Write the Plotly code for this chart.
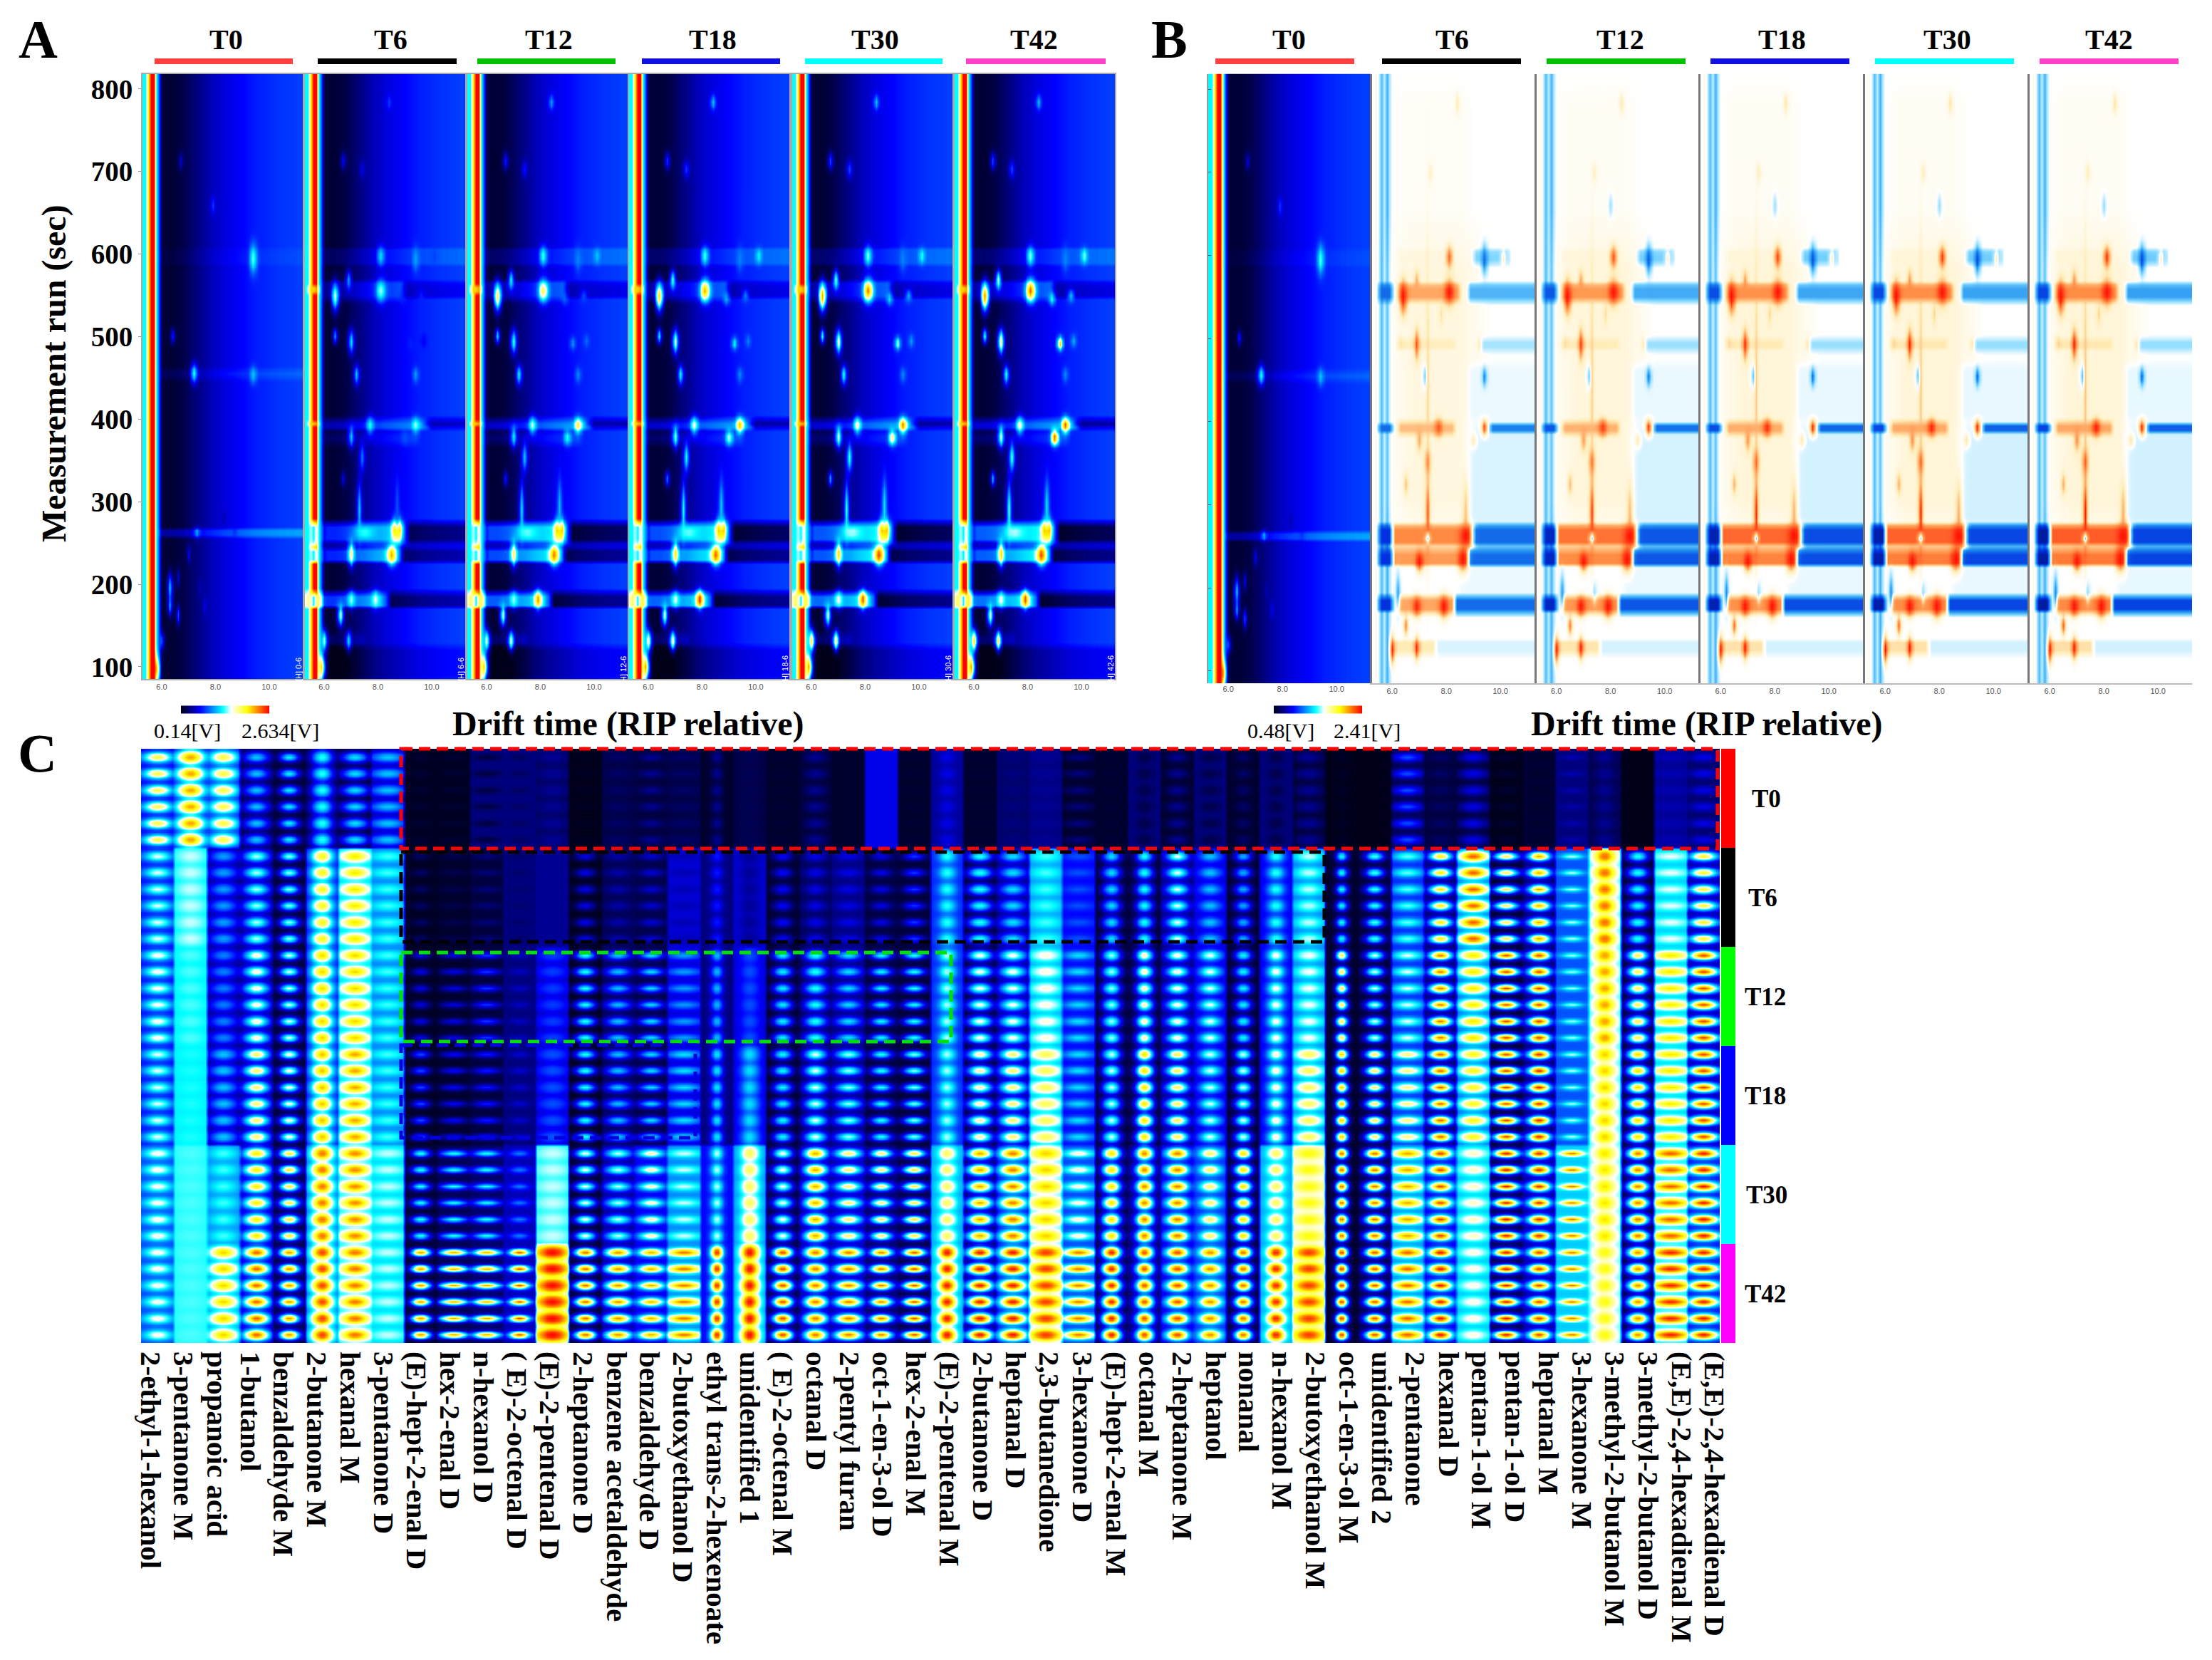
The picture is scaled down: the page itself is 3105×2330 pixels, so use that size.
import numpy as np
import plotly.graph_objects as go

W, H = 3105, 2330

times = ['T0', 'T6', 'T12', 'T18', 'T30', 'T42']
top_colors = ['#FF4040', '#000000', '#00C000', '#1010E0', '#00FFFF', '#FF40C8']
side_colors = ['#FF0000', '#000000', '#00FF00', '#0000FF', '#00FFFF', '#FF00FF']

jet = [[0, '#00001A'], [.05, '#000048'], [.22, '#0000FF'], [.47, '#00FFFF'],
       [.57, '#FFFFFF'], [.75, '#FFFF00'], [1, '#FF0000']]
jet_diff = [[0, '#00001A'], [.05, '#000048'], [.22, '#0030E0'], [.35, '#2090F0'], [.47, '#80D8FF'],
            [.57, '#FFFFFF'], [.68, '#FFEDB8'], [.85, '#FF8A40'], [1, '#FF1000']]

# gallery plots: drift time nodes, level (0-1 of the colour bar)
drift_nodes = [round(5.3 + .1 * i, 1) for i in range(60)]
run_nodes = list(range(85, 825, 5))
profile_a = [.47, .47, .75, 1, 1, .5, .3, .05, .03, .03, .03, .03, .035, .04, .045, .05, .06, .07, .08, .09,
             .1, .11, .12, .13, .14, .15, .16, .165, .17, .18, .185, .19, .195, .2, .205, .21, .215, .22, .225, .23,
             .235, .24, .245, .25, .25, .255, .255, .26, .26, .265, .265, .27, .27, .27, .275, .275, .275, .28, .28, .28]
profile_b = [.57, .6, .55, .42, .52, .4, .5, .57, .57, .57, .57, .57, .57, .57, .57, .57, .57, .57, .57, .57,
             .57, .57, .57, .57, .57, .57, .57, .57, .57, .57, .57, .57, .57, .57, .57, .57, .57, .57, .57, .57,
             .57, .57, .57, .57, .57, .57, .57, .57, .57, .57, .57, .57, .57, .57, .57, .57, .57, .57, .57, .57]

# T0 spots
t0_drift = [6.67, 7.95, 9.42, 6.42, 7.23, 9.41, 7.35, 7.74, 8.7, 8.27, 7.04, 6.27, 6.6, 6.33, 6.64, 7.63, 6.02, 5.84, 7.43]
t0_run = [713, 659, 595, 501, 456, 454, 263, 263, 263, 281, 237, 196, 208, 174, 163, 174, 132, 98, 196]
t0_level = [.18, .28, .52, .25, .5, .42, .42, .25, .25, .15, .2, .42, .18, .38, .3, .2, .3, .85, .15]
t0_sd_drift = [.06, .06, .09, .06, .08, .08, .07, .05, .06, .05, .05, .07, .05, .06, .05, .05, .06, .07, .05]
t0_sd_run = [7, 7, 12, 6, 8, 7, 4, 3, 3, 6, 7, 12, 8, 8, 8, 7, 7, 10, 7]
t0_band_lo = [258, 450, 588]
t0_band_hi = [268, 460, 606]
t0_band_drift = [5.95, 5.95, 5.95]
t0_band_delta = [.1, .04, .015]

# spots of T6 to T42
peak_drift = [8.4, 6.65, 7.43, 8.05, 9.41, 10.08, 6.45, 6.92, 8.11, 8.87, 9.6, 6.42, 6.99, 9.24, 9.7, 7.19, 9.37, 7.68,
              9.41, 7.04, 9.02, 7.38, 7.33, 6.65, 8.73, 8.68, 7.46, 6.99, 8.53, 6.96, 7.89, 6.62, 6.0, 6.92, 5.86]
peak_run = [784, 713, 703, 598, 594, 598, 549, 569, 556, 546, 550, 501, 494, 492, 495, 454, 454, 393,
            393, 379, 378, 354, 290, 328, 266, 295, 263, 237, 236, 182, 182, 163, 132, 132, 100]
peak_sd_drift = [.07, .07, .07, .09, .08, .08, .09, .07, .12, .08, .08, .06, .08, .07, .07, .07, .07, .09,
                 .09, .08, .09, .07, .06, .06, .12, .06, .25, .08, .12, .1, .09, .08, .07, .07, .08]
peak_sd_run = [6, 7, 7, 8, 10, 6, 12, 8, 9, 5, 5, 6, 10, 5, 5, 8, 6, 7,
               6, 9, 6, 12, 24, 6, 9, 22, 6, 10, 8, 7, 7, 9, 9, 8, 10]
peak_t6 = [.28, .22, .2, .45, .38, .28, .58, .38, .55, .25, .25, .38, .45, .25, .2, .42, .38, .5,
           .55, .42, .3, .34, .42, .2, 1, .3, .5, .68, .85, .55, .58, .6, .55, .45, .78]
peak_t12 = [.38, .25, .24, .52, .35, .42, .72, .48, .72, .32, .3, .45, .52, .38, .33, .48, .36, .58,
            .75, .48, .5, .42, .45, .25, 1, .4, .52, .72, .9, .55, .88, .6, .6, .62, .8]
peak_t18 = [.42, .28, .28, .52, .35, .48, .78, .52, .85, .4, .35, .48, .6, .5, .35, .48, .36, .62,
            .85, .55, .58, .48, .48, .35, 1, .42, .52, .78, .92, .58, 1, .62, .65, .68, .85]
peak_t30 = [.42, .3, .3, .55, .35, .5, .85, .55, .9, .45, .4, .5, .65, .6, .38, .5, .36, .65,
            .92, .6, .7, .5, .5, .4, 1, .45, .55, .8, .95, .6, .95, .62, .75, .72, .85]
peak_t42 = [.42, .3, .3, .55, .35, .55, .88, .58, .92, .5, .42, .52, .7, .85, .4, .5, .36, .65,
            .95, .6, .95, .52, .52, .42, 1, .45, .55, .8, .95, .6, .95, .62, .78, .75, .85]
peak_levels = [peak_t6, peak_t12, peak_t18, peak_t30, peak_t42]

# horizontal bands of T6 to T42
band_lo = [588, 545, 388, 370, 250, 250, 228, 228, 172, 172, 128, 85, 548, 390]
band_hi = [608, 568, 400, 385, 275, 275, 245, 245, 190, 190, 140, 125, 566, 400]
band_d0 = [5.95, 5.95, 5.95, 5.95, 5.95, 8.9, 5.95, 8.7, 5.3, 8.2, 5.95, 6.2, 8.9, 9.7]
band_d1 = [11.3, 8.7, 9.6, 9.2, 8.8, 11.3, 8.6, 11.3, 8.1, 11.3, 7.2, 11.3, 11.3, 11.3]
band_delta = [.05, .1, .14, .05, .26, -.2, .26, -.16, .28, -.16, .05, -.06, -.08, -.14]
band_gain = [.85, 1, 1.02, 1.05, 1.08]
rip_lo = [172, 228, 248, 392, 552]
rip_hi = [190, 245, 275, 398, 562]
rip_level = [.47, .47, .47, .8, .8]

# panel B, difference to T0
diff_drift = [8.4, 7.39, 7.98, 8.06, 9.44, 10.1, 6.42, 6.92, 8.1, 7.78, 6.95, 6.35, 9.2, 7.19, 9.4, 7.68, 9.4, 7.02, 9.02,
              7.34, 6.55, 7.27, 7.3, 8.7, 8.7, 7.02, 8.57, 6.92, 7.9, 6.55, 6.0, 6.92, 6.25, 7.39, 7.29]
diff_run = [783, 700, 660, 598, 595, 597, 550, 567, 556, 530, 493, 495, 493, 455, 454, 393, 393, 378, 378,
            352, 325, 290, 430, 290, 263, 232, 235, 178, 178, 155, 126, 128, 195, 195, 260]
diff_level = [.68, .66, .5, .9, .3, .66, 1, .8, 1, .7, .92, .7, .68, .42, .33, .92, .95, .8, .68,
              .85, .75, .92, .72, .75, 1, 1, 1, .98, 1, .85, .98, .98, .38, .5, .45]
diff_sd_drift = [.06, .06, .06, .08, .08, .06, .1, .07, .12, .06, .07, .07, .06, .06, .06, .1, .08, .07, .07,
                 .08, .06, .06, .05, .07, .14, .1, .12, .11, .12, .06, .06, .07, .05, .06, .06]
diff_sd_run = [8, 8, 10, 9, 12, 6, 14, 10, 10, 10, 12, 6, 6, 10, 7, 7, 6, 9, 6,
               12, 9, 28, 110, 26, 9, 8, 10, 8, 9, 8, 11, 9, 14, 8, 4]
diff_band_lo = [620, 270, 270, 400, 190, 120, 120, 590, 590, 545, 545, 488, 485, 385, 388, 250, 250, 228, 228, 170, 170,
                250, 228, 172, 388, 545]
diff_band_hi = [800, 620, 400, 470, 228, 138, 138, 606, 606, 566, 566, 500, 500, 400, 398, 276, 276, 246, 246, 190, 190,
                276, 246, 190, 398, 566]
diff_band_d0 = [6.2, 6.2, 8.8, 8.8, 8.5, 6.0, 7.6, 6.2, 9.0, 6.2, 8.8, 6.2, 9.2, 6.2, 9.6, 5.9, 8.95, 6.0, 8.8, 6.2, 8.3,
                5.5, 5.5, 5.5, 5.5, 5.5]
diff_band_d1 = [8.5, 8.8, 11.3, 11.3, 11.3, 7.3, 11.3, 8.0, 10.0, 8.2, 11.3, 8.0, 11.3, 8.0, 11.3, 8.8, 11.3, 8.5, 11.3, 8.0, 11.3,
                5.7, 5.7, 5.7, 5.7, 5.7]
diff_band_value = [.585, .62, .54, .555, .555, .68, .54, .62, .47, .8, .41, .67, .5, .76, .33, .85, .3, .82, .3, .8, .3,
                   .22, .22, .22, .3, .3]
diff_gain = [1, 1.1, 1.15, 1.18, 1.2]

# panel C
compounds = ['2-ethyl-1-hexanol', '3-pentanone M', 'propanoic acid', '1-butanol', 'benzaldehyde M', '2-butanone M',
             'hexanal M', '3-pentanone D', '(E)-hept-2-enal D', 'hex-2-enal D', 'n-hexanol D', '( E)-2-octenal D',
             '(E)-2-pentenal D', '2-heptanone D', 'benzene acetaldehyde', 'benzaldehyde D', '2-butoxyethanol D',
             'ethyl trans-2-hexenoate', 'unidentified 1', '( E)-2-octenal M', 'octanal D', '2-pentyl furan',
             'oct-1-en-3-ol D', 'hex-2-enal M', '(E)-2-pentenal M', '2-butanone D', 'heptanal D', '2,3-butanedione',
             '3-hexanone D', '(E)-hept-2-enal M', 'octanal M', '2-heptanone M', 'heptanol', 'nonanal', 'n-hexanol M',
             '2-butoxyethanol M', 'oct-1-en-3-ol M', 'unidentified 2', '2-pentanone', 'hexanal D', 'pentan-1-ol M',
             'pentan-1-ol D', 'heptanal M', '3-hexanone M', '3-methyl-2-butanol M', '3-methyl-2-butanol D',
             '(E,E)-2,4-hexadienal M', '(E,E)-2,4-hexadienal D']
peak_c_t0 = [.72, .85, .72, .42, .47, .5, .45, .42, .03, .03, .04, .07, .12, .01, .08, .12, .08, .12, .06, .03, .12, .02, .2, .03,
             .2, .03, .1, .12, .1, .03, .05, .12, .05, .08, .05, .12, .02, .0, .3, .08, .2, .03, .02, .15, .12, .0, .15, .2]
peak_c_t6 = [.57, .55, .38, .55, .55, .75, .78, .5, .08, .06, .1, .08, .12, .2, .14, .18, .15, .25, .12, .22, .2, .2, .2, .28,
             .5, .5, .45, .5, .3, .45, .5, .58, .42, .4, .5, .55, .5, .52, .52, .78, .92, .72, .85, .56, .9, .5, .57, .75]
peak_c_t12 = [.6, .5, .35, .62, .58, .8, .8, .5, .2, .2, .28, .17, .28, .5, .42, .45, .38, .42, .3, .47, .5, .45, .48, .5,
              .55, .6, .6, .6, .45, .55, .65, .62, .58, .48, .6, .58, .75, .58, .57, .9, .78, .95, .95, .55, .85, .72, .78, .95]
peak_c_t18 = [.57, .48, .42, .7, .62, .82, .85, .5, .3, .22, .25, .18, .3, .5, .42, .45, .45, .47, .45, .48, .58, .55, .5, .55,
              .55, .65, .7, .7, .45, .57, .8, .72, .57, .58, .62, .7, .85, .72, .68, .92, .75, .95, .98, .56, .8, .8, .78, .95]
peak_c_t30 = [.6, .5, .5, .78, .75, .9, .88, .55, .5, .5, .5, .35, .55, .6, .56, .65, .56, .57, .7, .6, .85, .7, .7, .75,
              .7, .85, .9, .8, .62, .8, .9, .9, .7, .8, .7, .75, .95, .92, .85, .95, .62, 1, .98, .9, .78, .9, .92, 1]
peak_c_t42 = [.6, .5, .8, .92, .88, .95, .9, .55, .88, .85, .85, .95, 1, .92, .88, .85, .9, 1, 1, .95, .9, .9, .9, .95,
              1, 1, 1, .95, .9, 1, .95, .95, .88, .92, .98, .95, 1, .95, .92, 1, .6, 1, .95, .9, .75, .88, .98, 1]
peak_c = [peak_c_t0, peak_c_t6, peak_c_t12, peak_c_t18, peak_c_t30, peak_c_t42]
bg_c_t0 = [.2, .15, .22, .05, .03, .03, .02, .12, .01, .01, .1, .1, .05, .0, .05, .04, .05, .02, .05, .02, .03, .02, .2, .02,
           .12, .02, .08, .1, .02, .02, .1, .02, .1, .02, .1, .02, .0, .0, .05, .04, .02, .0, .03, .1, .05, .0, .12, .08]
bg_c_mid = [.22, .45, .1, .1, .03, .2, .42, .33, .01, .02, .04, .1, .12, .0, .06, .05, .18, .1, .18, .02, .06, .1, .04, .03,
            .25, .02, .1, .35, .22, .02, .03, .1, .18, .02, .2, .32, .02, .03, .25, .08, .3, .02, .08, .3, .48, .01, .42, .12]
bg_c_late = [.28, .48, .35, .15, .05, .3, .45, .42, .03, .06, .08, .15, .45, .02, .12, .2, .35, .22, .35, .04, .1, .14, .08, .05,
             .38, .05, .2, .45, .28, .03, .08, .18, .25, .03, .38, .55, .02, .05, .35, .2, .4, .05, .12, .42, .5, .02, .45, .22]
bg_c = [bg_c_t0, bg_c_mid, bg_c_mid, bg_c_mid, bg_c_late, bg_c_late]
# spot width and height inside a cell
blob_w = [.32, .35, .32, .28, .22, .25, .32, .44, .21, .32, .32, .22, .44, .24, .29, .28, .4, .13, .21, .22, .25, .29, .24, .25,
          .19, .29, .29, .4, .35, .21, .19, .24, .24, .19, .19, .35, .13, .21, .35, .25, .35, .29, .25, .25, .24, .24, .44, .32]
blob_h = [.23, .36, .29, .25, .2, .36, .25, .25, .17, .14, .14, .14, .38, .2, .2, .17, .18, .31, .43, .23, .25, .2, .18, .17,
          .31, .25, .25, .31, .18, .29, .29, .23, .23, .25, .29, .29, .23, .2, .2, .2, .25, .18, .2, .11, .36, .25, .2, .2]


def add_spots(z, drift, run, level, sd_d, sd_r):
    xs = np.array(drift_nodes)
    ys = np.array(run_nodes)
    for d, r, v, sx, sy in zip(drift, run, level, sd_d, sd_r):
        d = xs[np.abs(xs - d).argmin()]
        spot = np.exp(-.5 * ((xs - d) / sx) ** 2)[None, :] * np.exp(-.5 * ((ys - r) / sy) ** 2)[:, None]
        z = z + (v - z) * spot if v < .5 else np.maximum(z, z + (v - z) * spot)
    return z


def band_weight(lo, hi, d0, d1):
    # band edges fade out over a few nodes, tall bands fade slower
    xs, ys = np.array(drift_nodes), np.array(run_nodes)
    soft_y = max(3, (hi - lo) * .2)
    soft_x = max(.2, (hi - lo) / 300)
    wy = np.clip(np.minimum(ys - lo, hi - ys) / soft_y + .5, 0, 1)
    wx = np.clip(np.minimum(xs - d0, d1 - xs) / soft_x + .5, 0, 1)
    return wy[:, None] * wx[None, :]


def t0_map():
    z = np.tile(np.array(profile_a), (len(run_nodes), 1))
    for lo, hi, d0, dv in zip(t0_band_lo, t0_band_hi, t0_band_drift, t0_band_delta):
        z = z + dv * band_weight(lo, hi, d0, 11.6)
    return add_spots(z, t0_drift, t0_run, t0_level, t0_sd_drift, t0_sd_run)


def t_map(i):
    z = np.tile(np.array(profile_a), (len(run_nodes), 1))
    for lo, hi, d0, d1, dv in zip(band_lo, band_hi, band_d0, band_d1, band_delta):
        z = z + dv * band_gain[i] * band_weight(lo, hi, d0, d1 + .3)
    for lo, hi, v in zip(rip_lo, rip_hi, rip_level):
        w = band_weight(lo, hi, 5.45, 5.75)
        z = z + (v - z) * w
    return add_spots(z, peak_drift, peak_run, peak_levels[i], peak_sd_drift, peak_sd_run)


def diff_map(i):
    z = np.tile(np.array(profile_b), (len(run_nodes), 1))
    g = diff_gain[i]
    for lo, hi, d0, d1, v in zip(diff_band_lo, diff_band_hi, diff_band_d0, diff_band_d1, diff_band_value):
        z = z + (.57 + (v - .57) * g - z) * band_weight(lo, hi, d0, d1 + .3)
    lv = [min(1, .57 + (v - .57) * g) for v in diff_level]
    return add_spots(z, diff_drift, diff_run, lv, diff_sd_drift, diff_sd_run)


def c_map():
    # 10 nodes per cell across, 7 down, each of the 6 replicate rows of a sampling time
    u = (np.arange(c_nx) + .5) / c_nx - .5
    v = (np.arange(c_ny) + .5) / c_ny - .5
    rows = []
    for g in range(6):
        block = []
        for c in range(len(compounds)):
            k = np.exp(-.5 * (u / blob_w[c]) ** 2)[None, :] * np.exp(-.5 * (v / blob_h[c]) ** 2)[:, None]
            block.append(bg_c[g][c] + (peak_c[g][c] - bg_c[g][c]) * k)
        block = np.hstack(block)
        rows += [block] * 6
    return np.vstack(rows)


def xf(p):
    return p / W


def yf(p):
    return 1 - p / H


c_nx, c_ny = 10, 7
fig = go.Figure()
axis_no = 0


def add_panel(left, right, top, bottom, z, coloraxis, xrange_, yrange_, x=None, y=None, **xkw):
    global axis_no
    axis_no += 1
    n = axis_no
    fig.add_trace(go.Heatmap(z=z, x=x if x is not None else drift_nodes, y=y if y is not None else run_nodes,
                             coloraxis=coloraxis, zsmooth='best', hoverinfo='skip',
                             xaxis=f'x{n}', yaxis=f'y{n}'))
    xa = dict(domain=[xf(left), xf(right)], range=xrange_, anchor=f'y{n}', showgrid=False, zeroline=False,
              tickvals=[6, 8, 10], ticktext=['6.0', '8.0', '10.0'], tickfont=dict(size=11, color='#555', family='Liberation Sans'),
              ticks='', ticklen=0, showline=False)
    ya = dict(domain=[yf(bottom), yf(top)], range=yrange_, anchor=f'x{n}', showgrid=False, zeroline=False,
              showticklabels=False, ticks='', showline=False)
    xa.update(xkw)
    fig.layout[f'xaxis{n}'] = xa
    fig.layout[f'yaxis{n}'] = ya
    return n


annotations = []
shapes = []


def text(x, y, s, size, bold=True, angle=0, color='#000', family='Liberation Serif'):
    annotations.append(dict(x=xf(x), y=yf(y), xref='paper', yref='paper', text=s, showarrow=False, textangle=angle,
                            xanchor='center', yanchor='middle',
                            font=dict(size=size, family=family, color=color, weight=700 if bold else 400)))


def rect(x0, y0, x1, y1, color):
    shapes.append(dict(type='rect', xref='paper', yref='paper', x0=xf(x0), x1=xf(x1), y0=yf(y0), y1=yf(y1),
                       fillcolor=color, line_width=0, layer='above'))


def dashed(x0, y0, x1, y1, color):
    shapes.append(dict(type='rect', xref='paper', yref='paper', x0=xf(x0), x1=xf(x1), y0=yf(y0), y1=yf(y1),
                       fillcolor='rgba(0,0,0,0)', line=dict(color=color, width=5, dash='16px,9px'), layer='above'))


# panel A
a_left = [200, 428, 656, 883, 1112, 1340]
a_bar = [(217, 411), (446, 641), (670, 864), (901, 1095), (1130, 1323), (1356, 1552)]
a_label = [317, 548, 770, 1000, 1228, 1451]
a_hint = ['[H] 0-6', '[H] 6-6', '[H] 12-6', '[H] 18-6', '[H] 30-6', '[H] 42-6']
for i in range(6):
    z = t0_map() if i == 0 else t_map(i - 1)
    n = add_panel(a_left[i], a_left[i] + 225, 103.5, 953, z, 'coloraxis', [5.285, 11.25], [85.3, 818.5],
                  showline=True, linecolor='#aaa', linewidth=2, mirror=True)
    if i == 0:
        fig.layout['yaxis1'].update(showticklabels=True, tickvals=[100, 200, 300, 400, 500, 600, 700, 800],
                                    tickfont=dict(size=39, family='Liberation Serif', color='#000', weight=700),
                                    ticks='outside', ticklen=4, tickcolor='#999', tickwidth=1)
    fig.layout[f'yaxis{n}'].update(showline=True, linecolor='#aaa', linewidth=2, mirror=True)
    rect(a_bar[i][0], 82, a_bar[i][1], 90, top_colors[i])
    text(a_label[i], 55, times[i], 40)
    text(a_left[i] + 219, 940, a_hint[i], 11, bold=False, angle=-90, color='#fff', family='Liberation Sans')

# panel B
b_left = [1696, 1926, 2156.5, 2387, 2618, 2849]
b_bar = [(1706, 1901), (1940, 2135), (2171, 2366), (2401, 2596), (2632, 2827), (2863, 3058)]
b_label = [1809, 2039, 2274, 2501, 2733, 2960]
for i in range(6):
    if i == 0:
        n = add_panel(b_left[i], b_left[i] + 228, 103.5, 959, t0_map(), 'coloraxis2', [5.26, 11.26], [85.3, 818.5])
        fig.layout[f'yaxis{n}'].update(tickvals=[100, 200, 300, 400, 500, 600, 700, 800], ticks='inside', ticklen=4,
                                       tickcolor='#555', showline=True, linecolor='#999', linewidth=2)
    else:
        n = add_panel(b_left[i], b_left[i] + 228, 103.5, 959, diff_map(i - 1), 'coloraxis3', [5.26, 11.26], [85.3, 818.5],
                      showline=True, linecolor='#bbb', linewidth=2)
        fig.layout[f'yaxis{n}'].update(showline=True, linecolor='#777', linewidth=3)
    rect(b_bar[i][0], 82, b_bar[i][1], 90, top_colors[i])
    text(b_label[i], 55, times[i], 40)

# panel C
n_cols = len(compounds)
c_x = [(j + .5) / c_nx + c for c in range(n_cols) for j in range(c_nx)]
c_y = [r + (j + .5) / c_ny for r in range(36) for j in range(c_ny)]
label_pos = [.28 + 1.012 * i for i in range(n_cols)]
add_panel(198, 2414, 1051, 1885, c_map(), 'coloraxis', [0, n_cols], [36, 0], x=c_x, y=c_y,
          tickvals=label_pos, ticktext=compounds, tickangle=90, ticklabelstandoff=11,
          tickfont=dict(size=41, family='Liberation Serif', color='#000', weight=700))

row_h = (1885 - 1051) / 6
c_label_x = [2479, 2474, 2478, 2478, 2480, 2478]
for i in range(6):
    rect(2416, 1051 + i * row_h, 2436, 1051 + (i + 1) * row_h, side_colors[i])
    text(c_label_x[i], 1121 + i * 139, times[i], 35)

dashed(563, 1051, 2411, 1191, '#FF0000')
dashed(563, 1196, 1859, 1322, '#000000')
dashed(563, 1337, 1335, 1462, '#00E000')
dashed(563, 1467, 976, 1597, '#0000E0')

text(53, 55, 'A', 76)
text(1641, 55, 'B', 76)
text(52, 1057, 'C', 76)
text(76, 524, 'Measurement run (sec)', 48, angle=-90)
text(882, 1016, 'Drift time (RIP relative)', 48)
text(2396, 1016, 'Drift time (RIP relative)', 48)
text(263, 1026, '0.14[V]', 30, bold=False)
text(393, 1026, '2.634[V]', 30, bold=False)
text(1798, 1026, '0.48[V]', 30, bold=False)
text(1919, 1026, '2.41[V]', 30, bold=False)


def bar(x0):
    return dict(orientation='h', x=xf(x0), xanchor='left', y=yf(996), yanchor='middle', lenmode='pixels', len=124,
                thickness=11, thicknessmode='pixels', showticklabels=False, ticks='', outlinewidth=0, xpad=0, ypad=0)


fig.update_layout(width=W, height=H, margin=dict(l=0, r=0, t=0, b=0, autoexpand=False),
                  paper_bgcolor='white', plot_bgcolor='white',
                  showlegend=False, annotations=annotations, shapes=shapes,
                  coloraxis=dict(colorscale=jet, cmin=0, cmax=1, colorbar=bar(254)),
                  coloraxis2=dict(colorscale=jet, cmin=0, cmax=1, colorbar=bar(1788)),
                  coloraxis3=dict(colorscale=jet_diff, cmin=0, cmax=1, showscale=False))

fig.write_html("out.html", config={'displayModeBar': False}, post_script="document.body.style.margin='0';")
